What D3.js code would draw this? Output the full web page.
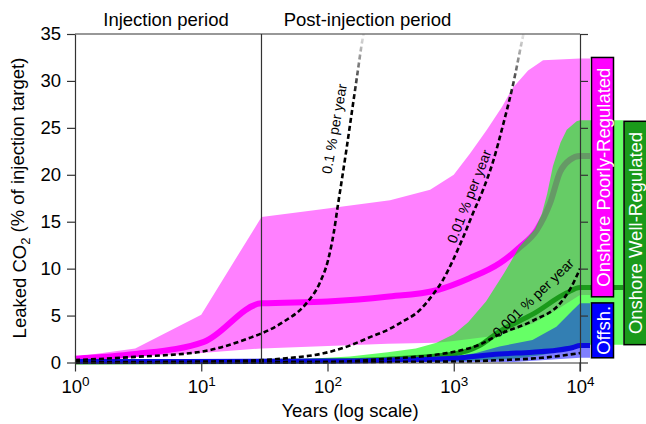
<!DOCTYPE html>
<html><head><meta charset="utf-8">
<script src="https://cdn.jsdelivr.net/npm/d3@7"></script>
<style>
body{margin:0;background:#fff}
svg{display:block}
text{font-family:"Liberation Sans",Arial,Helvetica,sans-serif}
</style>
</head><body>
<svg id="c" width="646" height="424"></svg>
<script>
// ---------- data ----------
const yTicks = [0, 5, 10, 15, 20, 25, 30, 35];
const xTicks = [1, 10, 100, 1000, 10000];
const xTickExp = ["0", "1", "2", "3", "4"];
const injectionEnd = 30;

// Onshore poorly-regulated (years, % leaked)
const poorUpper = [[1,0.6],[3,1.5],[10,5.1],[30,15.5],[87,16.3],[313,17.3],[650,18.4],[1000,20.0],[1350,22.3],[1830,24.8],[2400,27.2],[2950,29.3],[3880,31.1],[5100,32.2],[10000,32.4],[12000,32.4]];
const poorLower = [[1,0.25],[3,0.6],[10,1.0],[30,1.5],[300,2.0],[730,2.1],[1000,2.3],[2300,2.9],[4300,4.2],[6500,5.6],[10000,7.2],[12000,7.2]];
const poorMedian = [[1,0.4],[3,0.9],[10.5,2.2],[30,6.3],[100,6.5],[294,7.0],[733,7.7],[1345,9.0],[2325,10.6],[3350,12.3],[4540,14.1],[5800,17.0],[6950,20.3],[8330,21.6],[10000,22.0],[12000,22.0]];

// Onshore well-regulated
const wellUpper = [[1,0.15],[30,0.25],[60,0.35],[100,0.5],[150,0.65],[300,1.1],[500,1.5],[730,2.1],[1000,3.0],[1300,4.3],[1800,6.5],[2500,9.5],[3300,12.3],[4400,14.2],[5000,15.9],[5500,18.0],[6100,20.9],[7000,23.4],[7850,24.8],[9400,25.7],[10000,25.8],[22000,25.8]];
const wellLower = [[1,0],[1000,0.1],[3000,0.4],[5000,0.8],[7000,1.2],[10000,1.9],[22000,1.9]];
const wellMedian = [[1,0.05],[100,0.15],[300,0.35],[1000,0.9],[1600,1.8],[2300,3.3],[4300,5.2],[7800,7.4],[10000,8.0],[22000,8.0]];

// Offshore
const offUpper = [[1,0.1],[100,0.2],[500,0.35],[1000,0.6],[1500,1.0],[2300,1.7],[4200,2.4],[6500,3.8],[8800,5.6],[10000,6.3],[12000,6.3]];
const offLower = [[1,0],[3000,0.05],[10000,0.5],[12000,0.5]];
const offMedian = [[1,0.1],[100,0.15],[300,0.25],[1000,0.45],[2300,0.9],[4200,1.1],[6500,1.3],[8800,1.6],[10000,1.8],[12000,1.8]];

// constant leak-rate reference curves
const rate01 = [[1,0.25],[3,0.6],[10,1.15],[24,2.6],[30,3.1],[45,4.35],[68,6.3],[87,8.5],[101,10.9],[112,13.8],[121,16.8],[130,19.5],[142,22.9],[156,26.7],[171,30.4],[191,34.7],[200,36]];
const rate001 = [[1,0.03],[10,0.1],[30,0.25],[47,0.45],[93,0.98],[150,1.8],[217,2.7],[313,3.6],[375,4.2],[540,5.6],[689,7.3],[822,8.8],[986,10.9],[1183,13.3],[1420,15.9],[1706,18.4],[2047,21.4],[2456,25.3],[2947,29.6],[3538,34.8],[3700,36]];
const rate0001 = [[1,0],[100,0.05],[260,0.35],[880,1.0],[1600,1.9],[2300,3.0],[4300,4.5],[6950,6.3],[8500,8.0],[10000,10.0]];
const rate00001 = [[1,0],[1000,0.1],[2300,0.25],[5000,0.5],[10000,1.0]];

const rateLabels = ["0.1 % per year", "0.01 % per year", "0.001 % per year"];
const rateLabelYear = [113, 1320, 4250];
const rateLabelValue = [24.9, 17.7, 6.9];
const rateLabelAngle = [-80, -68.7, -44];

const groups = ["Onshore Poorly-Regulated", "Offsh.", "Onshore Well-Regulated"];
const groupRange = [[7.0, 32.5], [0.5, 6.35], [1.9, 25.7]];
const groupColors = ["#ff00ff", "#0000ff", "#1a9a1a"];

// ---------- drawing ----------
const svg = d3.select("#c");
const x = d3.scaleLog().domain([1, 1e4]).range([75, 580]);
const y = d3.scaleLinear().domain([0, 35]).range([362.5, 34]);
const FONT = 18.5;

const defs = svg.append("defs");
defs.append("clipPath").attr("id", "clipTop").append("rect")
  .attr("x", 0).attr("y", y(35)).attr("width", 646).attr("height", 424 - y(35));
const grad = defs.append("linearGradient").attr("id", "fade")
  .attr("gradientUnits", "userSpaceOnUse")
  .attr("x1", 0).attr("x2", 0).attr("y1", y(35)).attr("y2", y(28));
grad.append("stop").attr("offset", 0).attr("stop-color", "#e8e8e8");
grad.append("stop").attr("offset", 1).attr("stop-color", "#000");

const lin = d3.line().x(d => x(d[0])).y(d => y(d[1]));
const smooth = d3.line().x(d => x(d[0])).y(d => y(d[1])).curve(d3.curveMonotoneX);
const band = (up, lo) => lin(up.concat(lo.slice().reverse())) + "Z";

const g = svg.append("g").attr("clip-path", "url(#clipTop)");

// poorly-regulated band + median
g.append("path").attr("d", band(poorUpper, poorLower)).attr("fill", "#ff80ff");
g.append("path").attr("d", smooth(poorMedian)).attr("fill", "none")
  .attr("stroke", "#ff00ff").attr("stroke-width", 6).attr("stroke-linejoin", "round");

// well-regulated band
g.append("path").attr("d", band(wellUpper, wellLower)).attr("fill", "rgb(0,255,0)").attr("fill-opacity", 0.6);
g.append("path").attr("d", smooth(wellMedian)).attr("fill", "none")
  .attr("stroke", "#1a9a1a").attr("stroke-width", 5);

// offshore band
g.append("path").attr("d", band(offUpper, offLower)).attr("fill", "rgb(0,0,255)").attr("fill-opacity", 0.5);
g.append("path").attr("d", smooth(offMedian)).attr("fill", "none")
  .attr("stroke", "#0a0ae0").attr("stroke-width", 5);

// vertical markers
const axisCol = "#333";
svg.append("line").attr("x1", x(injectionEnd)).attr("x2", x(injectionEnd))
  .attr("y1", y(35)).attr("y2", y(0)).attr("stroke", axisCol).attr("stroke-width", 1.2);

// rate curves
[rate01, rate001, rate0001, rate00001].forEach(r => {
  g.append("path").attr("d", smooth(r)).attr("fill", "none")
    .attr("stroke", "url(#fade)").attr("stroke-width", 2.6)
    .attr("stroke-dasharray", "5,3");
});
rateLabels.forEach((t, i) => {
  const px = x(rateLabelYear[i]), py = y(rateLabelValue[i]);
  svg.append("text").attr("transform", `translate(${px},${py}) rotate(${rateLabelAngle[i]})`)
    .attr("text-anchor", "middle").attr("dominant-baseline", "central")
    .attr("font-size", 14).attr("fill", "#000").text(t);
});

// axes
const ax = svg.append("g").attr("font-size", FONT);
const left = ax.append("g").attr("transform", `translate(${x(1)},0)`)
  .call(d3.axisLeft(y).tickValues(yTicks).tickSize(8).tickPadding(6).tickSizeOuter(0));
const right = ax.append("g").attr("transform", `translate(${x(1e4)},0)`)
  .call(d3.axisRight(y).tickValues(yTicks).tickSize(8).tickFormat("").tickSizeOuter(0));
const bottom = ax.append("g").attr("transform", `translate(0,${y(0)})`)
  .call(d3.axisBottom(x).tickValues(xTicks).tickSize(9).tickPadding(8).tickSizeOuter(0).tickFormat(() => ""));
bottom.selectAll(".tick text").each(function(d, i) {
  const t = d3.select(this);
  t.text("10");
  t.append("tspan").attr("dy", "-0.5em").attr("font-size", 13.5).text(xTickExp[i]);
});
[left, right, bottom].forEach(a => {
  a.attr("font-family", null).attr("font-size", FONT);
  a.selectAll("path,line").attr("stroke", axisCol).attr("stroke-width", 1.2);
  a.selectAll("text").attr("fill", "#000");
});
svg.append("line").attr("x1", x(1)).attr("x2", x(1e4)).attr("y1", y(35)).attr("y2", y(35))
  .attr("stroke", axisCol).attr("stroke-width", 1.2);
svg.append("line").attr("x1", x(1e4)).attr("x2", x(1e4)).attr("y1", y(0)).attr("y2", y(0) + 9)
  .attr("stroke", axisCol).attr("stroke-width", 1.2);

// titles
svg.append("text").attr("x", 166).attr("y", 26).attr("text-anchor", "middle")
  .attr("font-size", FONT).text("Injection period");
svg.append("text").attr("x", 367.5).attr("y", 26).attr("text-anchor", "middle")
  .attr("font-size", FONT).text("Post-injection period");
svg.append("text").attr("x", 350).attr("y", 417).attr("text-anchor", "middle")
  .attr("font-size", FONT).text("Years (log scale)");
const yl = svg.append("text").attr("transform", "translate(26,198) rotate(-90)")
  .attr("text-anchor", "middle").attr("font-size", FONT);
yl.append("tspan").text("Leaked CO");
yl.append("tspan").attr("font-size", 13).attr("dy", "0.3em").text("2");
yl.append("tspan").attr("dy", "-0.3em").text(" (% of injection target)");

// group labels
const boxX = [591.5, 591.5, 624];
const boxW = [22, 22, 28];
groups.forEach((name, i) => {
  const y0 = y(groupRange[i][1]), y1 = y(groupRange[i][0]);
  svg.append("rect").attr("x", boxX[i]).attr("y", y0).attr("width", boxW[i]).attr("height", y1 - y0)
    .attr("fill", groupColors[i]).attr("stroke", "#000").attr("stroke-width", 1.5);
  svg.append("text")
    .attr("transform", `translate(${boxX[i] + 11.5},${(y0 + y1) / 2}) rotate(-90)`)
    .attr("text-anchor", "middle").attr("dominant-baseline", "central")
    .attr("font-size", FONT).attr("fill", "#fff").text(name);
});
</script>
</body></html>
